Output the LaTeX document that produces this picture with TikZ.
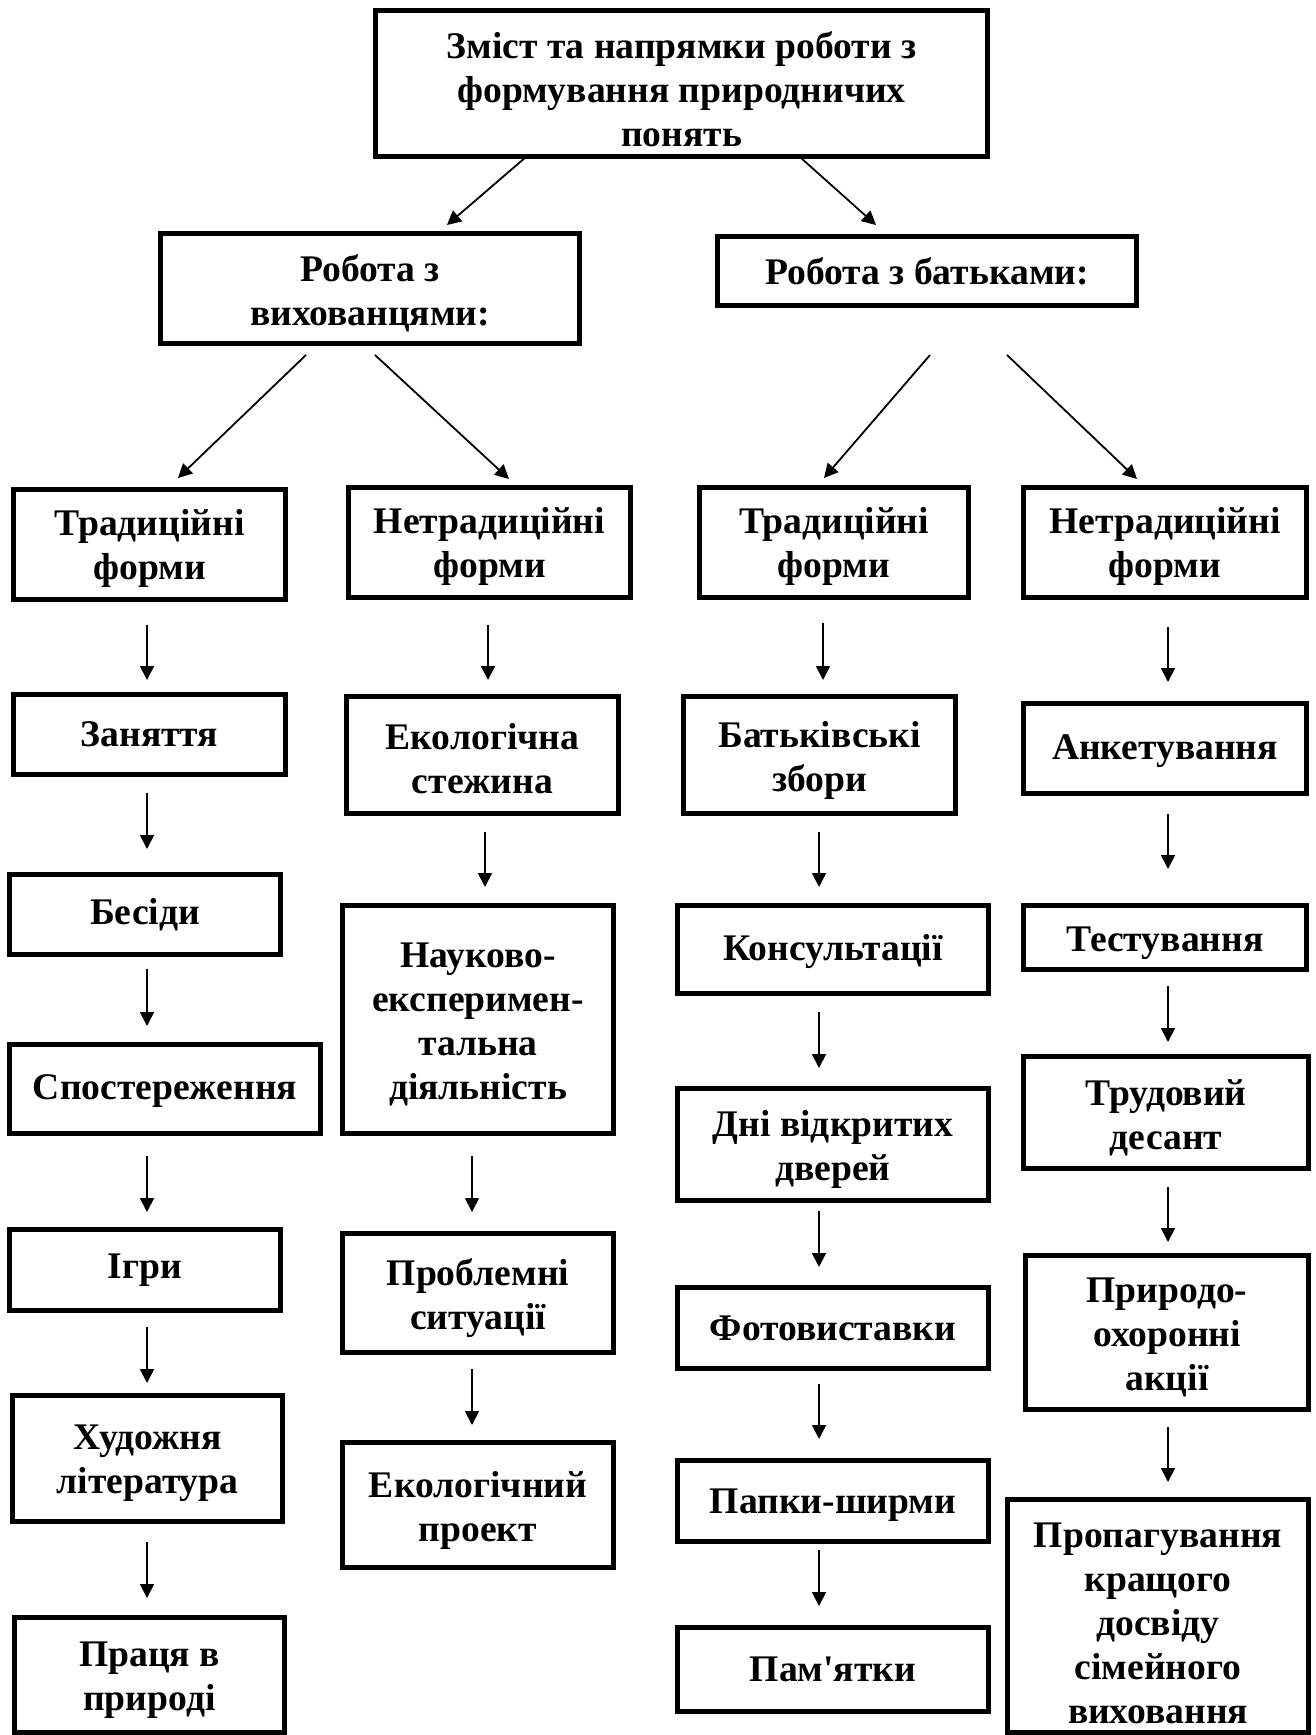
\documentclass[tikz,border=0pt]{standalone}
\usepackage{fontspec}
\setmainfont{Liberation Serif}[Ligatures=TeXOff]
\usetikzlibrary{arrows.meta,calc}
\tikzset{
  box/.style={draw=black, line width=2.5pt, fill=white, inner sep=1pt},
  boxtext/.style={inner sep=0pt, align=center, font=\fontsize{18.8pt}{22pt}\selectfont\bfseries},
  arr/.style={line width=0.9pt, -{Triangle[length=7pt,width=7pt]}}
}
% \bx[dy]{name}{x1}{y1}{x2}{y2}{text}
\newcommand\bx[7][0]{%
  \node[box, minimum width={0.5pt*(#5-#3-5)}, minimum height={0.5pt*(#6-#4-5)}] (#2) at ({(#3+#5)/2},{(#4+#6)/2}) {};
  \node[boxtext] (#2t) at ($(#2.center)+(0,#1)$) {#7};}
\newcommand\varr[5]{\draw[arr] ($(#1.south -| #3)+(0,#4)$) -- ($(#2.north -| #3)+(0,-#5)$);}
\begin{document}
\begin{tikzpicture}[x=0.5pt,y=-0.5pt]
\path[use as bounding box, fill=white] (0,0) rectangle (1316,1735);
% column x
\coordinate (c1) at (147,0);
\coordinate (c2a) at (488,0);
\coordinate (c2b) at (485,0);
\coordinate (c2c) at (472,0);
\coordinate (c3a) at (823,0);
\coordinate (c3b) at (819,0);
\coordinate (c4) at (1168,0);
% level 1-3
\bx[6]{top}{373}{8}{990}{159}{Зміст та напрямки роботи з\\формування природничих\\понять}
\bx[5]{wv}{158}{231}{582}{346}{Робота з\\вихованцями:}
\bx{wb}{715}{234}{1139}{308}{Робота з батьками:}
\bx[4]{tf1}{11}{487}{288}{602}{Традиційні\\форми}
\bx[4]{nf1}{346}{485}{633}{600}{Нетрадиційні\\форми}
\bx[4]{tf2}{697}{485}{971}{600}{Традиційні\\форми}
\bx[4]{nf2}{1021}{485}{1309}{600}{Нетрадиційні\\форми}
% column 1
\bx{zan}{11}{692}{288}{777}{Заняття}
\bx{bes}{7}{872}{283}{957}{Бесіди}
\bx[2]{spo}{7}{1042}{323}{1136}{Спостереження}
\bx{igr}{7}{1227}{283}{1313}{Ігри}
\bx[5]{hud}{10}{1393}{285}{1524}{Художня\\література}
\bx[5]{pra}{12}{1615}{287}{1735}{Праця в\\природі}
% column 2
\bx[4]{eko}{344}{694}{621}{816}{Екологічна\\стежина}
\bx[4.5]{nau}{340}{903}{616}{1136}{Науково-\\експеримен-\\тальна\\діяльність}
\bx[5]{pro}{340}{1231}{616}{1355}{Проблемні\\ситуації}
\bx[5]{ekp}{340}{1440}{616}{1570}{Екологічний\\проект}
% column 3
\bx[5]{bat}{681}{694}{958}{816}{Батьківські\\збори}
\bx[2]{kon}{675}{903}{991}{996}{Консультації}
\bx[5]{dni}{675}{1086}{991}{1203}{Дні відкритих\\дверей}
\bx{fot}{675}{1285}{991}{1371}{Фотовиставки}
\bx[4]{pap}{675}{1458}{991}{1544}{Папки-ширми}
\bx{pam}{675}{1625}{991}{1714}{Пам'ятки}
% column 4
\bx[3]{ank}{1021}{701}{1309}{796}{Анкетування}
\bx[6]{tes}{1021}{903}{1309}{972}{Тестування}
\bx[5]{tru}{1021}{1054}{1311}{1171}{Трудовий\\десант}
\bx[5]{pri}{1023}{1253}{1311}{1412}{Природо-\\охоронні\\акції}
\bx[7]{prop}{1005}{1497}{1311}{1735}{\fontsize{18.8pt}{21.5pt}\selectfont Пропагування\\кращого\\досвіду\\сімейного\\виховання}
% diagonal arrows
\draw[arr] ($(top.south)+(-155.5,-2)$) -- ($(wv.north)+(77,-6)$);
\draw[arr] ($(top.south)+(119.5,-1)$) -- ($(wb.north)+(-51,-9)$);
\draw[arr] ($(wv.south)+(-64,9)$) -- ($(tf1.north)+(28.5,-9)$);
\draw[arr] ($(wv.south)+(5,9)$) -- ($(nf1.north)+(19.5,-6)$);
\draw[arr] ($(wb.south)+(3,47)$) -- ($(tf2.north)+(-10,-7)$);
\draw[arr] ($(wb.south)+(80,47)$) -- ($(nf2.north)+(-28,-6)$);
% column 1 arrows
\varr{tf1}{zan}{c1}{23}{12}
\varr{zan}{bes}{c1}{16}{23}
\varr{bes}{spo}{c1}{12}{16}
\varr{spo}{igr}{c1}{20}{15}
\varr{igr}{hud}{c1}{14}{10}
\varr{hud}{pra}{c1}{18}{17}
% column 2 arrows
\varr{nf1}{eko}{c2a}{25}{14}
\varr{eko}{nau}{c2b}{16}{16}
\varr{nau}{pro}{c2c}{20}{19}
\varr{pro}{ekp}{c2c}{14}{15}
% column 3 arrows
\varr{tf2}{bat}{c3a}{23}{14}
\varr{bat}{kon}{c3b}{16}{16}
\varr{kon}{dni}{c3b}{16}{18}
\varr{dni}{fot}{c3b}{8}{18}
\varr{fot}{pap}{c3b}{13}{19}
\varr{pap}{pam}{c3b}{6}{19}
% column 4 arrows
\varr{nf2}{ank}{c4}{27}{19}
\varr{ank}{tes}{c4}{18}{34}
\varr{tes}{tru}{c4}{14}{12}
\varr{tru}{pri}{c4}{16}{11}
\varr{pri}{prop}{c4}{15}{15}
\end{tikzpicture}
\end{document}
